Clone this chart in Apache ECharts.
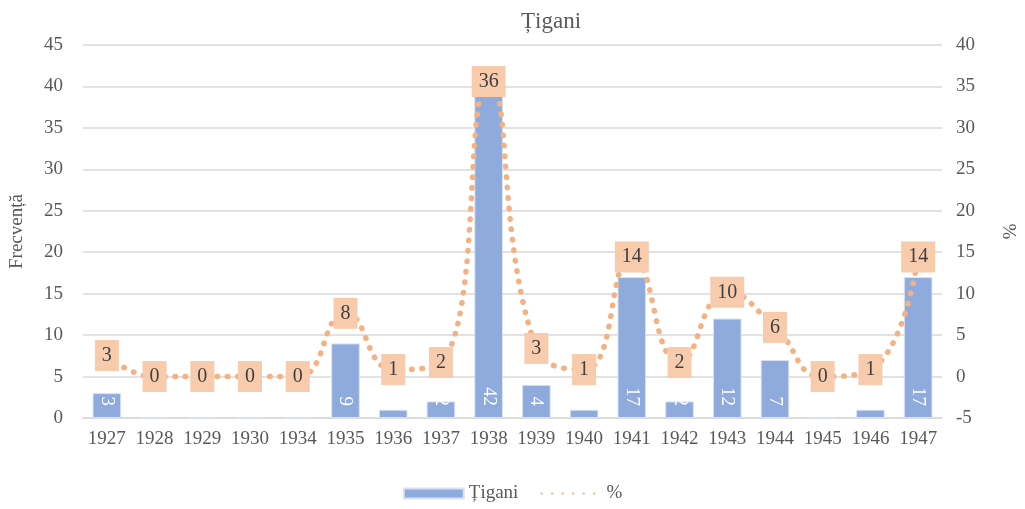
<!DOCTYPE html>
<html>
<head>
<meta charset="utf-8">
<script src="https://cdn.jsdelivr.net/npm/echarts@6/dist/echarts.min.js"></script>
<style>
  html, body { margin: 0; padding: 0; background: #fff; }
  #chart-container { width: 1025px; height: 509px; }
</style>
</head>
<body>
<div id="chart-container"></div>
<script>
var years = ["1927", "1928", "1929", "1930", "1934", "1935", "1936", "1937", "1938",
  "1939", "1940", "1941", "1942", "1943", "1944", "1945", "1946", "1947"];
var counts = [3, 0, 0, 0, 0, 9, 1, 2, 42, 4, 1, 17, 2, 12, 7, 0, 1, 17];
var percents = [2.54, 0, 0, 0, 0, 7.63, 0.85, 1.69, 35.59, 3.39, 0.85, 14.41, 1.69, 10.17, 5.93, 0, 0.85, 14.41];

var font = "'Liberation Serif', 'Times New Roman', serif";
var grey = "#595959";

var dom = document.getElementById("chart-container");
var myChart = echarts.init(dom, null, { renderer: "canvas" });

var option = {
  animation: false,
  textStyle: { fontFamily: font, color: grey },
  title: {
    text: "Țigani",
    left: 516,
    top: 5,
    textStyle: { fontFamily: font, fontSize: 23, fontWeight: "normal", color: grey }
  },
  legend: {
    bottom: 1,
    left: "center",
    itemWidth: 60,
    itemHeight: 10,
    itemGap: 22,
    textStyle: { fontFamily: font, fontSize: 19, color: grey },
    data: [
      { name: "Țigani", icon: "rect" },
      { name: "%" }
    ]
  },
  grid: { left: 82, right: 78, top: 45, bottom: 91 },
  xAxis: {
    type: "category",
    data: years,
    axisTick: { show: false },
    axisLine: { lineStyle: { color: "#d9d9d9", width: 1.5 } },
    axisLabel: { fontFamily: font, fontSize: 19, color: grey, margin: 12, interval: 0 }
  },
  yAxis: [
    {
      type: "value",
      min: 0,
      max: 45,
      interval: 5,
      name: "Frecvență",
      nameLocation: "middle",
      nameGap: 56,
      nameTextStyle: { fontFamily: font, fontSize: 19, color: grey },
      axisLabel: { fontFamily: font, fontSize: 19, color: grey, margin: 20 },
      splitLine: { lineStyle: { color: "#d9d9d9", width: 1.5 } }
    },
    {
      type: "value",
      min: -5,
      max: 40,
      interval: 5,
      name: "%",
      nameLocation: "middle",
      nameGap: 56,
      nameRotate: -90,
      nameTextStyle: { fontFamily: font, fontSize: 19, color: grey },
      axisLabel: { fontFamily: font, fontSize: 19, color: grey, margin: 14 },
      splitLine: { show: false }
    }
  ],
  series: [
    {
      name: "Țigani",
      type: "bar",
      data: counts,
      barWidth: "60%",
      itemStyle: { color: "#8faadc", borderColor: "#dae3f3", borderWidth: 1 },
      label: {
        show: true,
        position: "insideBottom",
        rotate: -90,
        align: "right",
        verticalAlign: "middle",
        distance: 12,
        color: "#ffffff",
        fontFamily: font,
        fontSize: 19,
        formatter: function (p) { return p.value > 0 ? p.value : ""; }
      },
      z: 2
    },
    {
      name: "%",
      type: "line",
      yAxisIndex: 1,
      data: percents,
      smooth: 0.5,
      symbol: "circle",
      symbolSize: 2,
      showSymbol: true,
      itemStyle: { color: "rgba(244,177,131,0)" },
      lineStyle: { color: "#f4b183", width: 5.5, type: [0.5, 10], cap: "round" },
      label: {
        show: true,
        position: "inside",
        backgroundColor: "#f8cbad",
        padding: [6, 7, 5, 7],
        color: "#404040",
        fontFamily: font,
        fontSize: 20,
        formatter: function (p) { return Math.round(p.value); }
      },
      z: 3
    }
  ]
};

myChart.setOption(option);
window.addEventListener("resize", myChart.resize);
</script>
</body>
</html>
